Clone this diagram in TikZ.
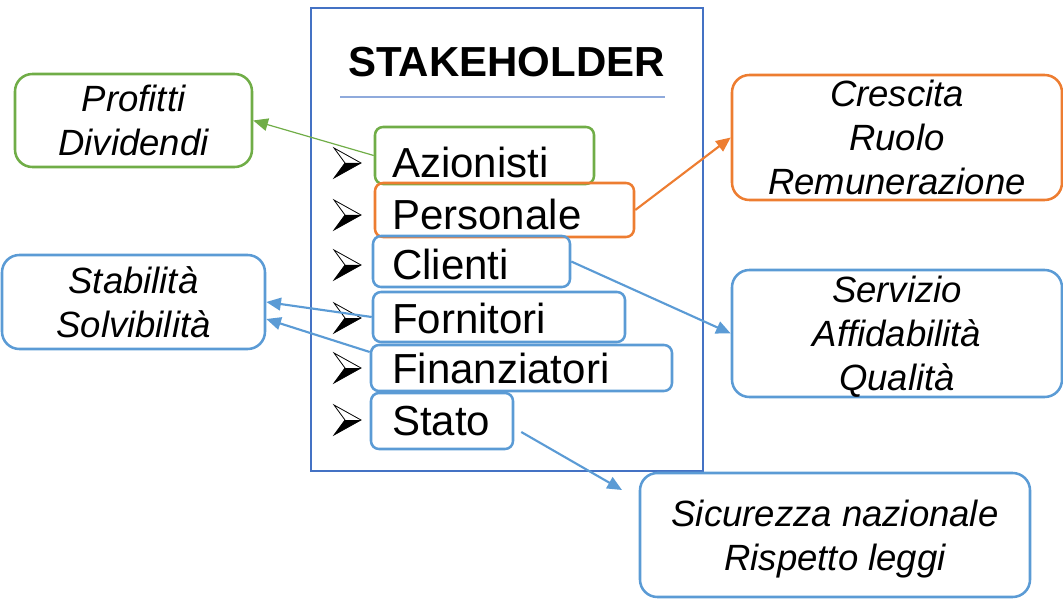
\documentclass[tikz,border=0pt]{standalone}
\usepackage{fontspec}
\setmainfont{Liberation Sans}
\usetikzlibrary{arrows.meta}
\definecolor{cgreen}{HTML}{70AD47}
\definecolor{corange}{HTML}{ED7D31}
\definecolor{cblue}{HTML}{5B9BD5}
\definecolor{cframe}{HTML}{4472C4}
\definecolor{csep}{HTML}{8FAADC}
\begin{document}
\begin{tikzpicture}[x=0.75pt,y=-0.75pt,
  itembox/.style={draw=#1, line width=1.9pt, rounded corners=6pt, inner sep=0pt},
  infobox/.style={draw=#1, line width=1.9pt, rounded corners=13pt, inner sep=0pt, align=center,
    font=\fontsize{27.4}{33}\selectfont\itshape, text depth=0pt},
  itemtext/.style={anchor=base west, inner sep=0pt, font=\fontsize{31.5}{38}\selectfont},
  link/.style={line width=1.6pt, -{Triangle[length=11pt,width=9.5pt]}},
  arrbullet/.pic={
    \fill[black] (27,-15) -- (11,-15) -- (0,0) -- cycle;
    \draw[black, line width=0.6pt, line join=miter] (0,-30) -- (27,-15) -- (0,0) -- (11,-15) -- cycle;
  }
]
\useasboundingbox (0,0) rectangle (1063,602);

% main frame
\node[draw=cframe, line width=2.2pt, minimum width=294pt, minimum height=347.25pt, inner sep=0pt] (frame) at (507,239.5) {};
\node[font=\fontsize{31.5}{38}\selectfont\bfseries, anchor=base, inner sep=0pt] (title) at (506.5,77) {STAKEHOLDER};
\draw[csep, line width=1.1pt] (340,97) -- (665,97);

% item boxes
\node[itembox=cgreen,  minimum width=164.25pt, minimum height=42.75pt] (az)    at (484.5,155.5) {};
\node[itembox=corange, minimum width=194.25pt, minimum height=40.5pt]  (pers)  at (504.5,210) {};
\node[itembox=cblue,   minimum width=147.75pt, minimum height=38.25pt] (cli)   at (471.5,261.5) {};
\node[itembox=cblue,   minimum width=189pt,    minimum height=37.5pt]  (forn)  at (499,317) {};
\node[itembox=cblue,   minimum width=225.75pt, minimum height=34.5pt]  (fin)   at (521.5,368) {};
\node[itembox=cblue,   minimum width=106.5pt,  minimum height=42pt]    (stato) at (442,421) {};

% item texts
\node[itemtext] (taz)    at (392,178) {Azionisti};
\node[itemtext] (tpers)  at (392,230) {Personale};
\node[itemtext] (tcli)   at (392,280) {Clienti};
\node[itemtext] (tforn)  at (392,333) {Fornitori};
\node[itemtext] (tfin)   at (392,383) {Finanziatori};
\node[itemtext] (tstato) at (392,435) {Stato};

% bullets
\foreach \b in {178,230,280,333,383,435} { \pic at (334,\b) {arrbullet}; }

% info boxes
\node[infobox=cgreen,  minimum width=177.75pt, minimum height=69.75pt] (prof) at (133.5,120.5) {Profitti\\Dividendi};
\node[infobox=cblue,   minimum width=197.25pt, minimum height=70.5pt]  (stab) at (133.5,302) {Stabilità\\Solvibilità};
\node[infobox=corange, minimum width=247.5pt,  minimum height=93.75pt] (cres) at (897,137.5) {Crescita\\Ruolo\\Remunerazione};
\node[infobox=cblue,   minimum width=247.5pt,  minimum height=95.25pt] (serv) at (897,333.5) {Servizio\\Affidabilità\\Qualità};
\node[infobox=cblue,   minimum width=292.5pt,  minimum height=93pt]    (sic)  at (835,535) {Sicurezza nazionale\\Rispetto leggi};

% connectors
\draw[link, cgreen, line width=0.9pt] (az.west) -- (prof.east);
\draw[link, corange] (pers.east) -- (cres.west);
\draw[link, cblue] (cli.east) -- (serv.west);
\draw[link, cblue] (forn.west) -- (stab.east);
\draw[link, cblue] ([yshift=12pt]fin.west) -- ([yshift=-12.75pt]stab.east);
\coordinate (stS) at ([xshift=5.25pt,yshift=-8.25pt]stato.east);
\coordinate (stE) at (622,490);
\draw[link, cblue] (stS) -- (stE);
\end{tikzpicture}
\end{document}
